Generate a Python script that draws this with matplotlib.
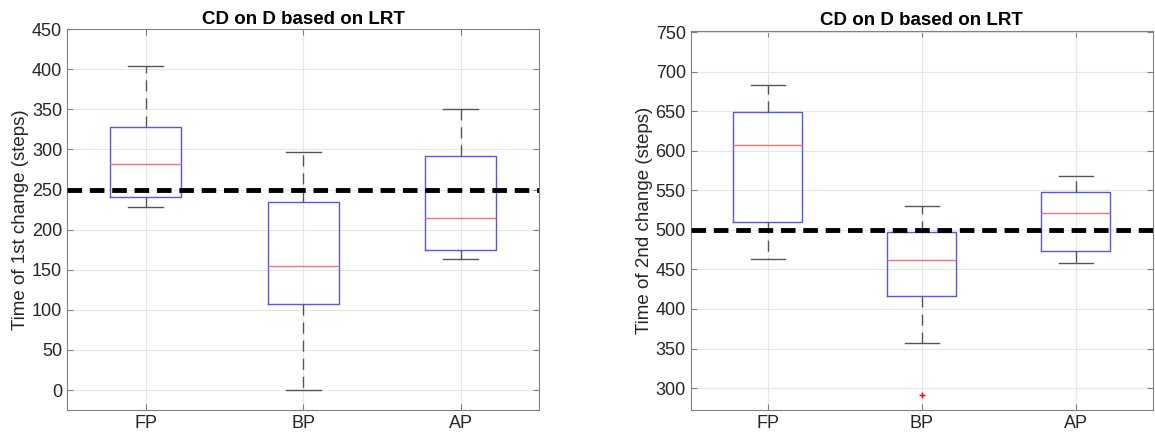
import matplotlib.pyplot as plt

plt.rcParams['font.family'] = ['Liberation Sans', 'DejaVu Sans']

labels = ["FP", "BP", "AP"]

# left panel: time of 1st change
first_low = [228, 0, 163]
first_q1 = [241, 107, 175]
first_med = [282, 155, 215]
first_q3 = [328, 234, 292]
first_high = [404, 297, 351]
first_fliers = [[], [], []]

# right panel: time of 2nd change
second_low = [463, 357, 458]
second_q1 = [510, 417, 473]
second_med = [607, 462, 522]
second_q3 = [649, 497, 548]
second_high = [683, 530, 568]
second_fliers = [[], [291], []]

true_first = 250
true_second = 500


def make_stats(low, q1, med, q3, high, fliers):
    stats = []
    for i, lab in enumerate(labels):
        stats.append({"label": lab, "whislo": low[i], "q1": q1[i], "med": med[i],
                      "q3": q3[i], "whishi": high[i], "fliers": fliers[i]})
    return stats


def draw_panel(ax, stats, ref, ylim, yticks, ylabel):
    ax.bxp(stats, widths=0.45, showfliers=True, capwidths=0.22,
           boxprops=dict(color="#5555ff", lw=1.0),
           medianprops=dict(color="#ff7070", lw=1.0),
           whiskerprops=dict(color="#555555", lw=1.0, linestyle=(0, (8, 5))),
           capprops=dict(color="#555555", lw=1.0),
           flierprops=dict(marker="+", markeredgecolor="red", markersize=5))
    ax.axhline(ref, color="black", lw=3.5, linestyle=(0, (3, 1.6)), zorder=5)
    ax.set_xlim(0.5, 3.5)
    ax.set_ylim(*ylim)
    ax.set_yticks(yticks)
    ax.grid(True, color="#e6e6e6", lw=0.8)
    ax.set_axisbelow(True)
    ax.set_title("CD on D based on LRT", fontsize=13.5, fontweight="bold", pad=4)
    ax.set_ylabel(ylabel, fontsize=13.5, color="#262626", labelpad=2)
    ax.tick_params(direction="in", top=True, right=True, labelsize=13,
                   colors="#808080", labelcolor="#262626", length=4)
    for s in ax.spines.values():
        s.set_color("#808080")


fig = plt.figure(figsize=(11.55, 4.41), dpi=100)
ax1 = fig.add_axes([0.058, 0.070, 0.409, 0.864])
ax2 = fig.add_axes([0.598, 0.070, 0.400, 0.860])

draw_panel(ax1, make_stats(first_low, first_q1, first_med, first_q3, first_high, first_fliers),
           true_first, (-25, 450), range(0, 451, 50), "Time of 1st change (steps)")
draw_panel(ax2, make_stats(second_low, second_q1, second_med, second_q3, second_high, second_fliers),
           true_second, (272, 752), range(300, 751, 50), "Time of 2nd change (steps)")

fig.savefig("out.png", dpi=100)
